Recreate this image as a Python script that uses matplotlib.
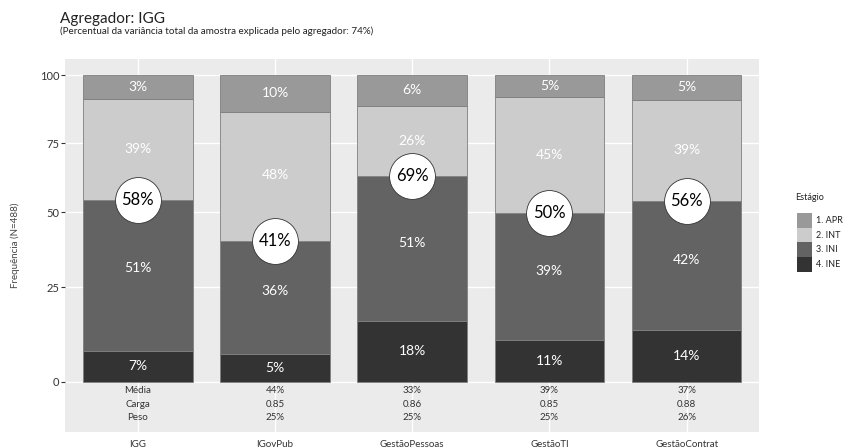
import matplotlib.pyplot as plt
import numpy as np
from matplotlib.patches import Rectangle

plt.rcParams['font.family'] = ['Lato', 'DejaVu Sans']

categorias = ['IGG', 'IGovPub', 'GestãoPessoas', 'GestãoTI', 'GestãoContrat']
estagios = ['4. INE', '3. INI', '2. INT', '1. APR']
cores = ['#333333', '#636363', '#CCCCCC', '#999999']

# altura desenhada de cada segmento, de baixo para cima
altura_ine = [8.2, 7.4, 16.1, 11.1, 13.7]
altura_ini = [46.3, 33.0, 47.1, 38.7, 40.5]
altura_int = [36.6, 46.2, 25.6, 42.1, 36.7]
altura_apr = [8.9, 13.4, 11.2, 8.1, 9.1]

# rótulos percentuais de cada segmento
rot_ine = [7, 5, 18, 11, 14]
rot_ini = [51, 36, 51, 39, 42]
rot_int = [39, 48, 26, 45, 39]
rot_apr = [3, 10, 6, 5, 5]

# INE + INI
rot_circulo = [58, 41, 69, 50, 56]

media = ['44%', '33%', '39%', '37%']
carga = ['0.85', '0.86', '0.85', '0.88']
peso = ['25%', '25%', '25%', '26%']

# o eixo y da figura original não é linear: posição de cada marca (em px)
marcas_y = [-100, 0, 25, 50, 75, 100, 200]
pos_marcas = [-380, 0, 95, 169.5, 238.7, 307, 580.2]


def escala_y(v):
    return np.interp(v, marcas_y, pos_marcas)


def escala_y_inv(p):
    return np.interp(p, pos_marcas, marcas_y)


def plot_barras(ax):
    x = np.arange(1, len(categorias) + 1)
    alturas = [altura_ine, altura_ini, altura_int, altura_apr]
    rotulos = [rot_ine, rot_ini, rot_int, rot_apr]
    base = np.zeros(len(categorias))
    for h, r, c in zip(alturas, rotulos, cores):
        h = np.array(h, dtype=float)
        ax.bar(x, h, bottom=base, width=0.8, color=c, edgecolor='#7F7F7F',
               linewidth=0.6, zorder=2)
        for xi, yi, ri in zip(x, base + h / 2, r):
            ax.text(xi, yi, f'{ri}%', ha='center', va='center',
                    color='white', fontsize=10, zorder=3)
        base = base + h

    topo_ini = np.array(altura_ine) + np.array(altura_ini)
    ax.scatter(x, topo_ini, s=1090, facecolor='white', edgecolor='#333333',
               linewidth=0.6, zorder=4)
    for xi, yi, ri in zip(x, topo_ini, rot_circulo):
        ax.text(xi, yi, f'{ri}%', ha='center', va='center',
                color='black', fontsize=12, zorder=5)

    return x


def legenda(fig):
    W, H = 848, 448
    fig.text(795 / W, 1 - 197 / H, 'Estágio', fontsize=6.5, va='center',
             color='#222222')
    for i, (c, nome) in enumerate(zip(cores[::-1], estagios[::-1])):
        topo = 213 + 14.7 * i
        fig.patches.append(Rectangle((797 / W, 1 - (topo + 14.7) / H),
                                     15 / W, 14.7 / H, facecolor=c,
                                     edgecolor='none',
                                     transform=fig.transFigure))
        fig.text(816 / W, 1 - (topo + 7.35) / H, nome, fontsize=6.5,
                 va='center', color='#222222')


def main():
    fig = plt.figure(figsize=(8.48, 4.48), dpi=100)
    ax = fig.add_axes([65 / 848, 16 / 448, 694 / 848, 373 / 448])
    ax.set_facecolor('#EBEBEB')
    for s in ax.spines.values():
        s.set_visible(False)
    ax.set_yscale('function', functions=(escala_y, escala_y_inv))

    x = plot_barras(ax)

    ax.set_xlim(0.469, 5.528)
    ax.set_ylim(escala_y_inv(-50), escala_y_inv(323))
    ax.set_yticks([0, 25, 50, 75, 100])
    ax.set_yticklabels(['0', '25', '50', '75', '100'])
    ax.minorticks_off()
    ax.set_xticks(x)
    ax.set_xticklabels(categorias)
    ax.grid(True, color='white', linewidth=1.0, zorder=0)
    ax.set_axisbelow(True)
    ax.tick_params(axis='y', length=3, color='#333333', labelsize=8,
                   labelcolor='#333333', pad=1)
    ax.tick_params(axis='x', length=0, labelsize=7, labelcolor='#333333',
                   pad=6)

    # tabela sob as barras
    linhas = [('Média', media), ('Carga', carga), ('Peso', peso)]
    for i, (nome, vals) in enumerate(linhas):
        yy = -2.3 - 3.55 * i
        ax.text(x[0], yy, nome, ha='center', va='center', fontsize=7,
                color='#333333')
        for xi, v in zip(x[1:], vals):
            ax.text(xi, yy, v, ha='center', va='center', fontsize=7,
                    color='#333333')

    ax.set_ylabel('Frequência (N=488)', fontsize=7, color='#444444',
                  labelpad=14)

    fig.text(60 / 848, 1 - 19 / 448, 'Agregador: IGG', fontsize=11,
             va='center', color='#222222')
    fig.text(60 / 848, 1 - 31.5 / 448,
             '(Percentual da variância total da amostra explicada pelo agregador: 74%)',
             fontsize=7.1, va='center', color='#222222')

    legenda(fig)

    plt.savefig('out.png', dpi=100)


if __name__ == "__main__":
    main()
